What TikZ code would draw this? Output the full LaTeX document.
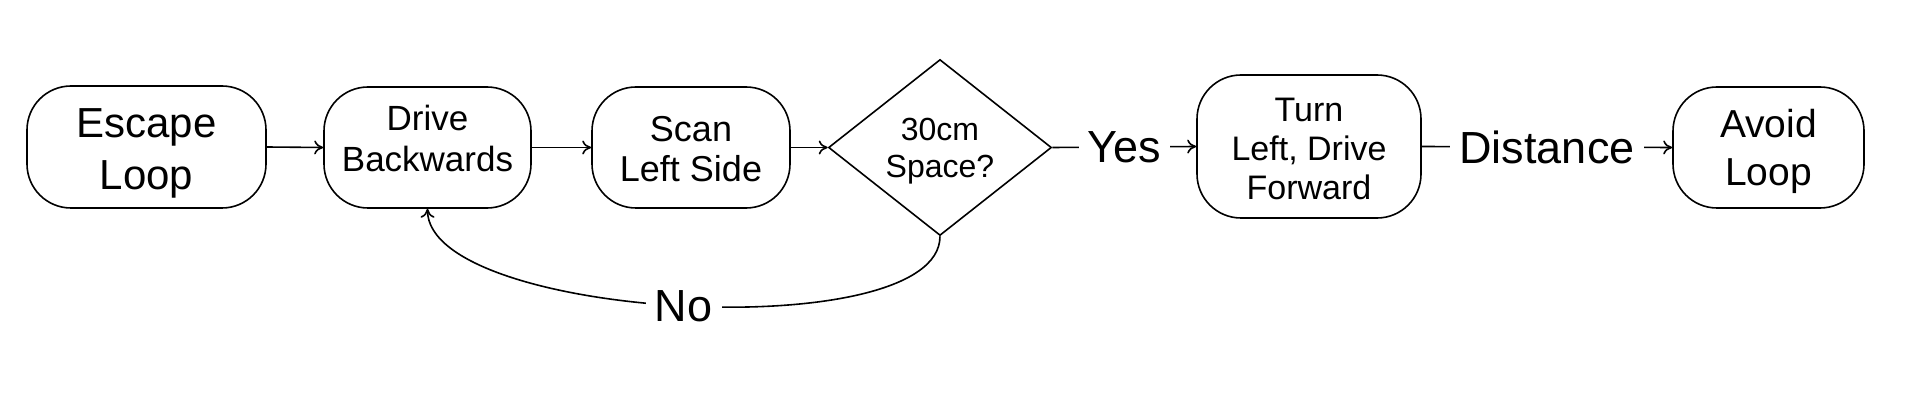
\documentclass[tikz,border=0pt]{standalone}
\usepackage{fontspec}
\setmainfont{Liberation Sans}
\usetikzlibrary{shapes.geometric,arrows.meta}
\begin{document}
\begin{tikzpicture}[x=0.5pt,y=-0.5pt,
  box/.style={draw, line width=0.8pt, rounded corners=22pt, inner sep=0pt, align=center, text depth=0pt},
  decision/.style={draw, line width=0.8pt, diamond, inner sep=0pt, align=center, shape aspect=1.27, text depth=0pt},
  conn/.style={line width=0.8pt, -{To[length=4.5pt,width=7pt]}},
  lbl/.style={fill=white, inner sep=4.5pt, font=\fontsize{22.5}{26}\selectfont},
]
\useasboundingbox (0,0) rectangle (1926,406);
\node[box, minimum width=119.5pt, minimum height=61pt, text height=43pt, font=\fontsize{21}{26}\selectfont] (escape) at (146.5,147) {Escape\\Loop};
\node[box, minimum width=103.5pt, minimum height=60.5pt, text height=24.5pt, font=\fontsize{17.5}{20.5}\selectfont] (drive) at (427.5,147.5) {Drive\\Backwards};
\node[box, minimum width=99pt, minimum height=60.5pt, text height=34pt, font=\fontsize{18}{20}\selectfont] (scan) at (691,147.5) {Scan\\Left Side};
\node[decision, minimum width=111.5pt, minimum height=88pt, text height=30.5pt, font=\fontsize{16}{18.5}\selectfont] (space) at (940,147.5) {30cm\\Space?};
\node[box, minimum width=112pt, minimum height=71.5pt, text height=53pt, font=\fontsize{17}{19.5}\selectfont] (turn) at (1309,146.5) {Turn\\Left, Drive\\Forward};
\node[box, minimum width=95.5pt, minimum height=60.5pt, text height=38.5pt, font=\fontsize{19.5}{24}\selectfont] (avoid) at (1768.5,147.5) {Avoid\\Loop};

\draw[conn] (escape.east) -- (drive.west);
\draw[conn] (drive.east) -- (scan.west);
\draw[conn] (scan.east) -- (space.west);
\draw[conn] (space.east) -- node[lbl] {Yes} (turn.west);
\draw[conn] (turn.east) -- node[lbl] {Distance} (avoid.west);
\draw[conn] (space.south) .. controls +(0,111) and +(0,111) .. node[lbl] {No} (drive.south);
\end{tikzpicture}
\end{document}
